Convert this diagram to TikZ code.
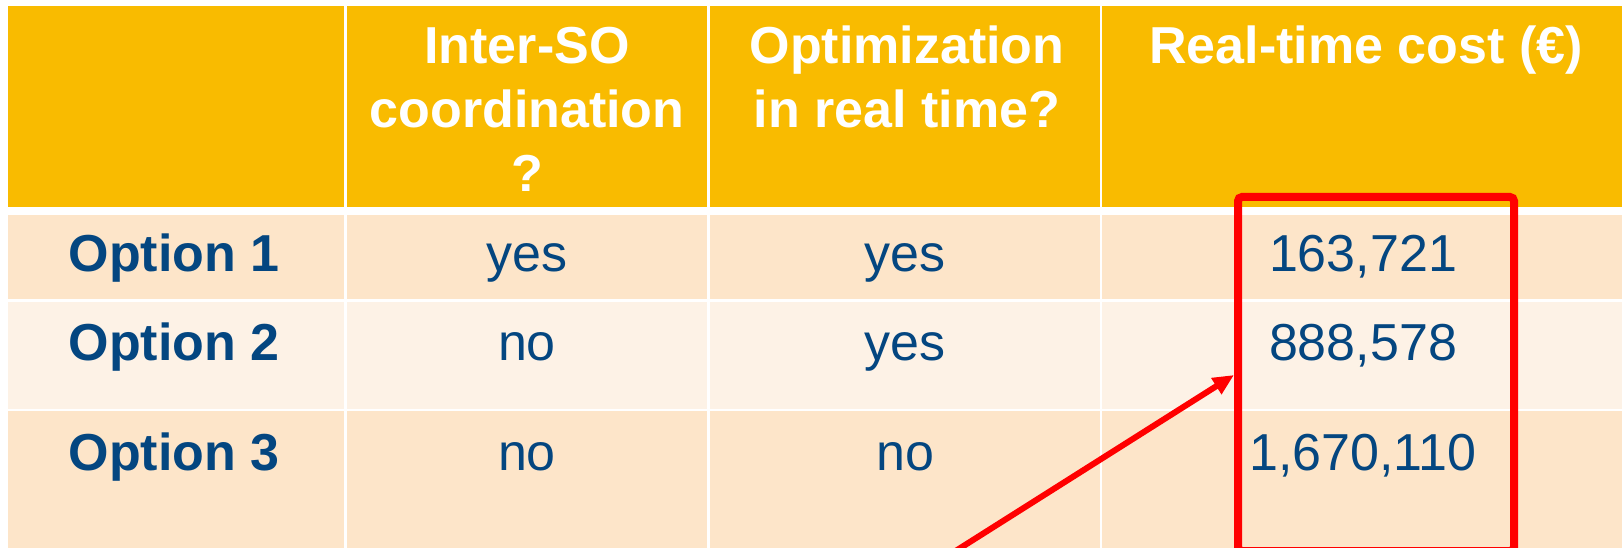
\documentclass[tikz,border=0pt]{standalone}
\usepackage{fontspec}
\setmainfont{Liberation Sans}
\usetikzlibrary{arrows.meta}
\definecolor{hdrgold}{RGB}{249,187,0}
\definecolor{rowpeach}{RGB}{253,229,201}
\definecolor{rowcream}{RGB}{253,242,230}
\definecolor{inkblue}{RGB}{4,70,128}
\definecolor{markred}{RGB}{255,0,0}
\newcommand{\cellstack}[1]{\begin{tabular}[t]{@{}c@{}}#1\end{tabular}}
\begin{document}
\begin{tikzpicture}[x=1pt,y=-1pt,
  bodyfont/.style={font=\fontsize{52}{64}\selectfont},
  hdrtxt/.style={bodyfont,text=white,font=\fontsize{52}{64}\selectfont\bfseries,anchor=base,inner sep=0pt},
  lbltxt/.style={text=inkblue,font=\fontsize{52}{64}\selectfont\bfseries,anchor=base,inner sep=0pt},
  valtxt/.style={text=inkblue,font=\fontsize{52}{64}\selectfont,anchor=base,inner sep=0pt},
  markbox/.style={draw=markred,line width=8pt,rounded corners=4pt,minimum width=276pt,minimum height=354pt,inner sep=0pt},
  markarrow/.style={draw=markred,line width=6pt,-{Triangle[length=21pt,width=18pt]}}]
\useasboundingbox (0,0) rectangle (1622,548);
\fill[white] (0,0) rectangle (1622,548);

% header row
\foreach \xa/\xb in {8/344,347/707,710/1100,1102/1622}
  \fill[hdrgold] (\xa,6) rectangle (\xb,207);
% body rows
\foreach \ya/\yb/\c in {215/299/rowpeach,302/409/rowcream,411/560/rowpeach}
  \foreach \xa/\xb in {8/344,347/707,710/1100,1102/1622}
    \fill[\c] (\xa,\ya) rectangle (\xb,\yb);

% header texts
\node[hdrtxt] (h2) at (527,64) {\cellstack{Inter-SO\\coordination\\?}};
\node[hdrtxt] (h3) at (907,64) {\cellstack{Optimization\\in real time?}};
\node[hdrtxt] (h4) at (1366,64) {Real-time cost (€)};

% option rows
\node[lbltxt] (o1) at (174,271) {Option 1};
\node[lbltxt] (o2) at (174,360) {Option 2};
\node[lbltxt] (o3) at (174,470) {Option 3};

\node[valtxt] (c1) at (527,271) {yes};
\node[valtxt] (c2) at (527,360) {no};
\node[valtxt] (c3) at (527,470) {no};

\node[valtxt] (r1) at (905,271) {yes};
\node[valtxt] (r2) at (905,360) {yes};
\node[valtxt] (r3) at (905,470) {no};

\node[valtxt] (v1) at (1363,271) {163,721};
\node[valtxt] (v2) at (1363,360) {888,578};
\node[valtxt] (v3) at (1363,470) {1,670,110};

% highlight on the cost column
\node[markbox] (box) at (1376,374) {};
\coordinate (tail) at (954,552);
\draw[markarrow] (tail) -- (box.west |- 0,375);
\end{tikzpicture}
\end{document}
